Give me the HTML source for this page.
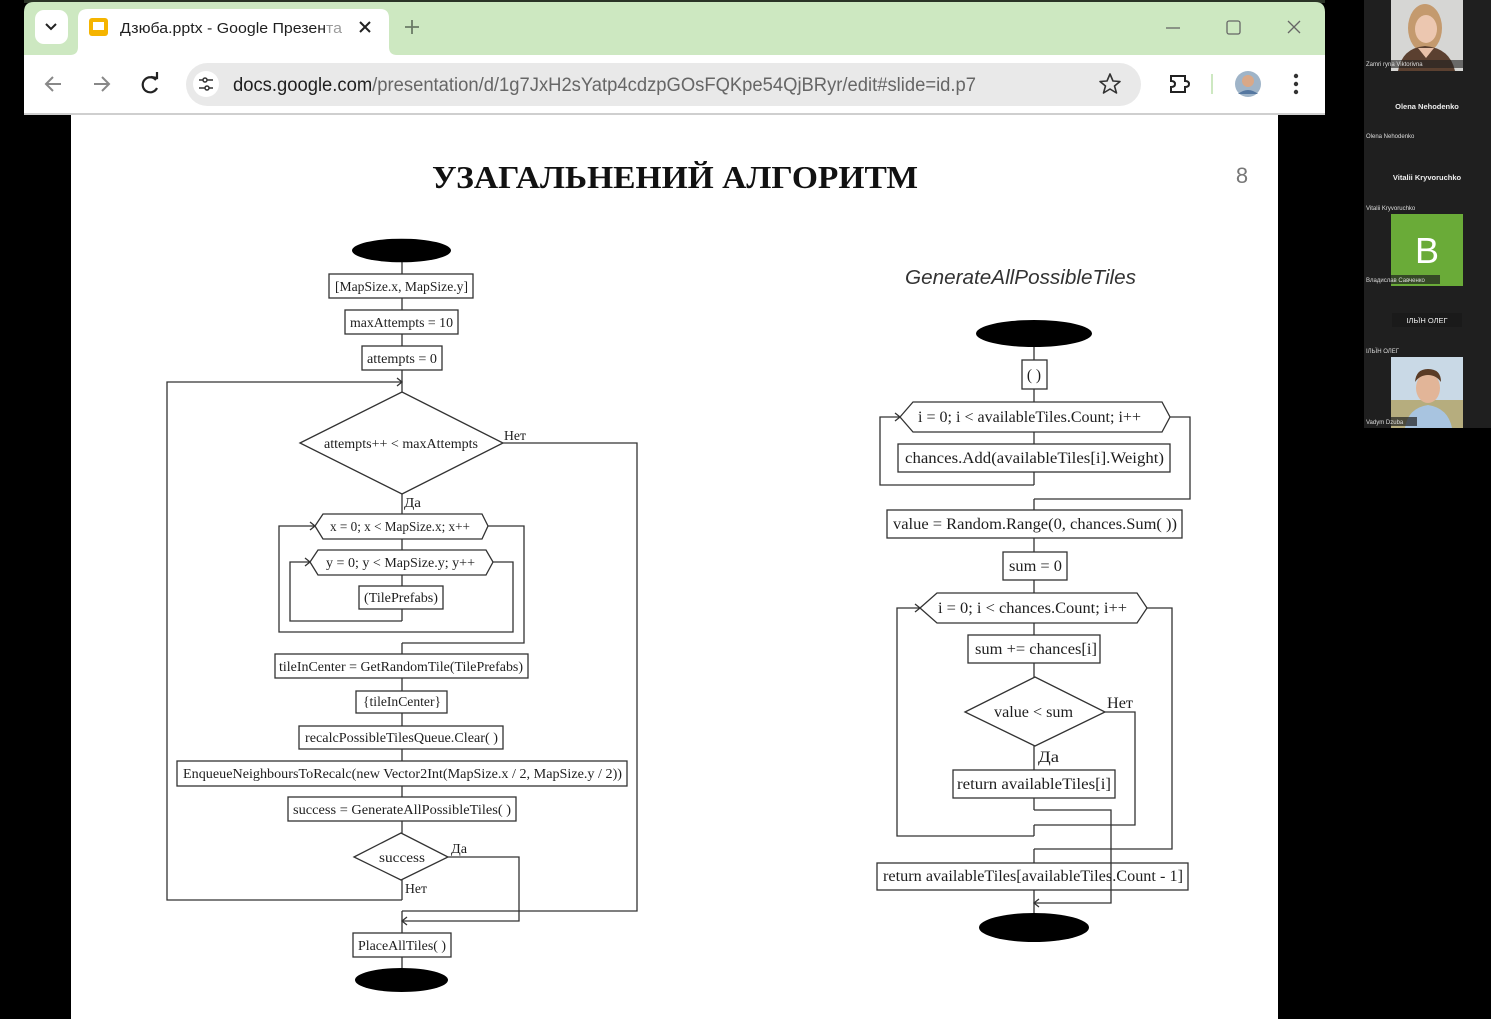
<!DOCTYPE html>
<html><head><meta charset="utf-8">
<style>
html,body{margin:0;padding:0;background:#000;width:1491px;height:1019px;overflow:hidden}
svg{display:block}
.ft{font-family:"Liberation Serif","DejaVu Serif",serif;fill:#1e1e1e}
.sans{font-family:"Liberation Sans","DejaVu Sans",sans-serif}
</style></head>
<body>
<svg width="1491" height="1019" viewBox="0 0 1491 1019" xmlns="http://www.w3.org/2000/svg">
<!-- background -->
<rect x="0" y="0" width="1491" height="1019" fill="#000"/>
<rect x="24" y="0" width="1301" height="3" fill="#2a3326"/>
<!-- browser window -->
<path d="M24,12 Q24,2 34,2 L1315,2 Q1325,2 1325,12 L1325,1019 L24,1019 Z" fill="#cde8c1"/>
<!-- tab strip -->
<rect x="35" y="10" width="33" height="34" rx="9" fill="#fff"/>
<path d="M46,24 L51,29 L56,24" fill="none" stroke="#222" stroke-width="2"/>
<path d="M70,55 Q78,55 78,47 L78,18 Q78,9 88,9 L380,9 Q389,9 389,18 L389,47 Q389,55 397,55 Z" fill="#fff"/>
<rect x="89" y="18" width="19" height="18" rx="3" fill="#f5b400"/>
<rect x="93" y="22" width="11" height="8" fill="#fff"/>
<text x="120" y="33" class="sans" font-size="15" fill="#1f1f1f" textLength="222" lengthAdjust="spacingAndGlyphs">Дзюба.pptx - Google Презента</text>
<rect x="325" y="14" width="20" height="30" fill="#fff" opacity="0.55"/>
<path d="M360,22 L370,32 M370,22 L360,32" stroke="#222" stroke-width="2"/>
<path d="M412,20 L412,34 M405,27 L419,27" stroke="#6a7a66" stroke-width="1.8"/>
<path d="M1166,28 L1180,28" stroke="#666" stroke-width="1.3"/>
<rect x="1227" y="21" width="13" height="13" rx="2" fill="none" stroke="#666" stroke-width="1.3"/>
<path d="M1288,21 L1300,33 M1300,21 L1288,33" stroke="#666" stroke-width="1.3"/>
<!-- toolbar -->
<rect x="24" y="55" width="1301" height="59" fill="#fff"/>
<path d="M46,84 L61,84 M53,77 L46,84 L53,91" fill="none" stroke="#888" stroke-width="2"/>
<path d="M94,84 L109,84 M102,77 L109,84 L102,91" fill="none" stroke="#888" stroke-width="2"/>
<path d="M156,80 A7.5,7.5 0 1 0 157,88" fill="none" stroke="#222" stroke-width="2.2"/>
<path d="M151,77 L157,78 L157,72" fill="none" stroke="#222" stroke-width="2.2"/>
<rect x="186" y="63" width="955" height="43" rx="21.5" fill="#e9e9e9"/>
<circle cx="206" cy="84" r="13" fill="#fff"/>
<path d="M199,80 L203,80 M207,80 L213,80 M199,88 L205,88 M209,88 L213,88" stroke="#333" stroke-width="1.6"/>
<circle cx="205" cy="80" r="2" fill="none" stroke="#333" stroke-width="1.5"/>
<circle cx="207" cy="88" r="2" fill="none" stroke="#333" stroke-width="1.5"/>
<text x="233" y="91" class="sans" font-size="19" textLength="743" lengthAdjust="spacingAndGlyphs"><tspan fill="#1f1f1f">docs.google.com</tspan><tspan fill="#666">/presentation/d/1g7JxH2sYatp4cdzpGOsFQKpe54QjBRyr/edit#slide=id.p7</tspan></text>
<path d="M1110,74 L1113,81 L1120,81.5 L1114.5,86 L1116.5,93 L1110,89 L1103.5,93 L1105.5,86 L1100,81.5 L1107,81 Z" fill="none" stroke="#333" stroke-width="1.6" stroke-linejoin="round"/>
<path d="M1171,76 L1185,76 L1185,81 Q1189,81 1189,84 Q1189,87 1185,87 L1185,92 L1171,92 L1171,87 Q1175,87 1175,84 Q1175,81 1171,81 Z" fill="none" stroke="#222" stroke-width="2"/>
<path d="M1212,74 L1212,94" stroke="#cde8c1" stroke-width="2"/>
<circle cx="1248" cy="84" r="13" fill="#9fb4c8"/>
<circle cx="1248" cy="81" r="6" fill="#d9a888"/>
<path d="M1238,94 Q1248,86 1258,94" fill="#5577a0"/>
<circle cx="1296" cy="76" r="2.2" fill="#333"/><circle cx="1296" cy="84" r="2.2" fill="#333"/><circle cx="1296" cy="92" r="2.2" fill="#333"/>
<rect x="24" y="113" width="1301" height="2" fill="#cfcfcf"/>
<!-- slide area -->
<rect x="24" y="115" width="1301" height="904" fill="#000"/>
<rect x="71" y="115" width="1207" height="904" fill="#fff"/>
<text x="675" y="188" text-anchor="middle" font-family="'Liberation Serif',serif" font-weight="bold" font-size="32" fill="#111" textLength="486" lengthAdjust="spacingAndGlyphs">УЗАГАЛЬНЕНИЙ АЛГОРИТМ</text>
<text x="1242" y="183" text-anchor="middle" class="sans" font-size="22" fill="#777">8</text>
<text x="905" y="284" class="sans" font-style="italic" font-size="20" fill="#333" textLength="231" lengthAdjust="spacingAndGlyphs">GenerateAllPossibleTiles</text>

<!-- LEFT FLOWCHART -->
<g stroke="#333" stroke-width="1.3" fill="none">
<path d="M402,262 V274 M402,298 V310 M402,334 V346 M402,370 V392 M402,494 V514 M402,539 V550 M402,575 V586 M402,609 V621 M402,643 V654 M402,678 V691 M402,713 V726 M402,749 V761 M402,786 V797 M402,821 V833 M402,880 V900 M402,911 V933 M402,957 V968"/>
<polyline points="402,900 167,900 167,382 402,382"/>
<polyline points="503,443 637,443 637,911 402,911"/>
<polyline points="448,857 519,857 519,921 402,921"/>
<polyline points="402,621 290,621 290,562 310,562"/>
<polyline points="493,562 513,562 513,632 279,632 279,526 315,526"/>
<polyline points="488,526 524,526 524,643 402,643"/>
<!-- arrows -->
<polyline points="397,378 402,382 397,386"/>
<polyline points="305,558 310,562 305,566"/>
<polyline points="310,522 315,526 310,530"/>
<polyline points="407,917 402,921 407,925"/>
<!-- shapes -->
<rect x="329" y="274" width="144" height="24" fill="#fff"/>
<rect x="345" y="310" width="113" height="24" fill="#fff"/>
<rect x="362" y="346" width="80" height="24" fill="#fff"/>
<polygon points="300,443 402,392 503,443 402,494" fill="#fff"/>
<polygon points="315,526 323,514 482,514 488,526 482,539 323,539" fill="#fff"/>
<polygon points="310,562 318,550 486,550 493,562 486,575 318,575" fill="#fff"/>
<rect x="359" y="586" width="84" height="23" fill="#fff"/>
<rect x="275" y="654" width="253" height="24" fill="#fff"/>
<rect x="356" y="691" width="91" height="22" fill="#fff"/>
<rect x="299" y="726" width="204" height="23" fill="#fff"/>
<rect x="177" y="761" width="450" height="25" fill="#fff"/>
<rect x="288" y="797" width="228" height="24" fill="#fff"/>
<polygon points="354,857 401,833 448,857 401,880" fill="#fff"/>
<rect x="353" y="933" width="98" height="24" fill="#fff"/>
</g>
<ellipse cx="401.5" cy="250.5" rx="49.5" ry="11.8" fill="#000"/>
<ellipse cx="401.5" cy="980" rx="46.5" ry="12" fill="#000"/>
<g class="ft" font-size="13.5">
<text x="335" y="291" textLength="133" lengthAdjust="spacingAndGlyphs">[MapSize.x, MapSize.y]</text>
<text x="350" y="327" textLength="103" lengthAdjust="spacingAndGlyphs">maxAttempts = 10</text>
<text x="367" y="363" textLength="70" lengthAdjust="spacingAndGlyphs">attempts = 0</text>
<text x="324" y="448" textLength="154" lengthAdjust="spacingAndGlyphs">attempts++ &lt; maxAttempts</text>
<text x="330" y="531" textLength="140" lengthAdjust="spacingAndGlyphs">x = 0; x &lt; MapSize.x; x++</text>
<text x="326" y="567" textLength="149" lengthAdjust="spacingAndGlyphs">y = 0; y &lt; MapSize.y; y++</text>
<text x="364" y="602" textLength="74" lengthAdjust="spacingAndGlyphs">(TilePrefabs)</text>
<text x="279" y="671" textLength="244" lengthAdjust="spacingAndGlyphs">tileInCenter = GetRandomTile(TilePrefabs)</text>
<text x="363" y="706" textLength="78" lengthAdjust="spacingAndGlyphs">{tileInCenter}</text>
<text x="305" y="742" textLength="193" lengthAdjust="spacingAndGlyphs">recalcPossibleTilesQueue.Clear( )</text>
<text x="183" y="778" textLength="439" lengthAdjust="spacingAndGlyphs">EnqueueNeighboursToRecalc(new Vector2Int(MapSize.x / 2, MapSize.y / 2))</text>
<text x="293" y="814" textLength="218" lengthAdjust="spacingAndGlyphs">success = GenerateAllPossibleTiles( )</text>
<text x="379" y="862" textLength="46" lengthAdjust="spacingAndGlyphs">success</text>
<text x="358" y="950" textLength="88" lengthAdjust="spacingAndGlyphs">PlaceAllTiles( )</text>
<text x="504" y="440" textLength="22" lengthAdjust="spacingAndGlyphs">Нет</text>
<text x="404" y="507" textLength="17" lengthAdjust="spacingAndGlyphs">Да</text>
<text x="451" y="853" textLength="16" lengthAdjust="spacingAndGlyphs">Да</text>
<text x="405" y="893" textLength="22" lengthAdjust="spacingAndGlyphs">Нет</text>
</g>

<!-- RIGHT FLOWCHART -->
<g stroke="#333" stroke-width="1.3" fill="none">
<path d="M1034,347 V360 M1034,389 V402 M1034,432 V444 M1034,472 V485 M1034,499 V510 M1034,538 V552 M1034,580 V593 M1034,623 V635 M1034,663 V677 M1034,746 V770 M1034,798 V810 M1034,825 V836 M1034,849 V863 M1034,890 V913"/>
<polyline points="1034,485 880,485 880,417 900,417"/>
<polyline points="1170,417 1190,417 1190,499 1034,499"/>
<polyline points="1105,712 1135,712 1135,825 1034,825"/>
<polyline points="1034,836 897,836 897,608 920,608"/>
<polyline points="1147,608 1172,608 1172,849 1034,849"/>
<polyline points="1034,810 1111,810 1111,903 1034,903"/>
<polyline points="895,413 900,417 895,421"/>
<polyline points="915,604 920,608 915,612"/>
<polyline points="1039,899 1034,903 1039,907"/>
<rect x="1022" y="360" width="25" height="29" fill="#fff"/>
<polygon points="900,417 913,402 1162,402 1170,417 1162,432 913,432" fill="#fff"/>
<rect x="898" y="444" width="272" height="28" fill="#fff"/>
<rect x="887" y="510" width="295" height="28" fill="#fff"/>
<rect x="1003" y="552" width="64" height="28" fill="#fff"/>
<polygon points="920,608 937,593 1137,593 1147,608 1137,623 937,623" fill="#fff"/>
<rect x="968" y="635" width="132" height="28" fill="#fff"/>
<polygon points="965,712 1035,677 1105,712 1035,746" fill="#fff"/>
<rect x="953" y="770" width="162" height="28" fill="#fff"/>
<rect x="877" y="863" width="311" height="27" fill="#fff"/>
</g>
<path d="M1111,863 V890" stroke="#333" stroke-width="1.3"/>
<ellipse cx="1034" cy="333.5" rx="58" ry="13.5" fill="#000"/>
<ellipse cx="1034" cy="927.5" rx="55" ry="14.5" fill="#000"/>
<g class="ft" font-size="15.5">
<text x="1034" y="380" text-anchor="middle">( )</text>
<text x="918" y="422" textLength="223" lengthAdjust="spacingAndGlyphs">i = 0; i &lt; availableTiles.Count; i++</text>
<text x="905" y="463" textLength="259" lengthAdjust="spacingAndGlyphs">chances.Add(availableTiles[i].Weight)</text>
<text x="893" y="529" textLength="284" lengthAdjust="spacingAndGlyphs">value = Random.Range(0, chances.Sum( ))</text>
<text x="1009" y="571" textLength="53" lengthAdjust="spacingAndGlyphs">sum = 0</text>
<text x="938" y="613" textLength="189" lengthAdjust="spacingAndGlyphs">i = 0; i &lt; chances.Count; i++</text>
<text x="975" y="654" textLength="122" lengthAdjust="spacingAndGlyphs">sum += chances[i]</text>
<text x="994" y="717" textLength="79" lengthAdjust="spacingAndGlyphs">value &lt; sum</text>
<text x="957" y="789" textLength="154" lengthAdjust="spacingAndGlyphs">return availableTiles[i]</text>
<text x="883" y="881" textLength="300" lengthAdjust="spacingAndGlyphs">return availableTiles[availableTiles.Count - 1]</text>
<text x="1107" y="708" textLength="26" lengthAdjust="spacingAndGlyphs">Нет</text>
<text x="1038" y="762" textLength="21" lengthAdjust="spacingAndGlyphs">Да</text>
</g>

<!-- RIGHT PANEL -->
<rect x="1364" y="0" width="127" height="428" fill="#1f1f1f"/>
<!-- photo 1 -->
<rect x="1391" y="0" width="72" height="71" fill="#d6d6d4"/>
<ellipse cx="1425" cy="28" rx="17" ry="24" fill="#c49a6e"/>
<path d="M1398,71 Q1402,48 1425,46 Q1450,48 1455,71 Z" fill="#5b4030"/>
<ellipse cx="1426" cy="29" rx="11" ry="14" fill="#ecc7b0"/>
<path d="M1418,48 L1426,58 L1434,48 Z" fill="#e8c0a8"/>
<rect x="1365" y="60" width="98" height="8" fill="#1f1f1f" opacity="0.6"/>
<text x="1366" y="66" class="sans" font-size="6" fill="#ddd">Zamri ryna Viktorivna</text>
<text x="1427" y="109" text-anchor="middle" class="sans" font-weight="bold" font-size="7.5" fill="#eee">Olena Nehodenko</text>
<text x="1366" y="138" class="sans" font-size="6" fill="#ddd">Olena Nehodenko</text>
<text x="1427" y="180" text-anchor="middle" class="sans" font-weight="bold" font-size="7.5" fill="#eee">Vitalii Kryvoruchko</text>
<text x="1366" y="210" class="sans" font-size="6" fill="#ddd">Vitalii Kryvoruchko</text>
<rect x="1391" y="214" width="72" height="72" fill="#6aab38"/>
<text x="1427" y="263" text-anchor="middle" class="sans" font-size="36" fill="#fff">B</text>
<rect x="1365" y="275" width="75" height="9" fill="#1f1f1f" opacity="0.7"/>
<text x="1366" y="282" class="sans" font-size="6" fill="#ddd">Владислав Савченко</text>
<rect x="1392" y="313" width="70" height="14" fill="#1a1a1a"/>
<text x="1427" y="323" text-anchor="middle" class="sans" font-size="7.5" fill="#eee">ІЛЬЇН ОЛЕГ</text>
<text x="1366" y="353" class="sans" font-size="6" fill="#ddd">ІЛЬЇН ОЛЕГ</text>
<!-- photo 2 -->
<rect x="1391" y="357" width="72" height="71" fill="#c9d9e6"/>
<rect x="1391" y="400" width="72" height="28" fill="#b6ad7e"/>
<path d="M1405,428 Q1408,408 1428,405 Q1448,408 1452,428 Z" fill="#a8c4e0"/>
<ellipse cx="1428" cy="388" rx="12" ry="15" fill="#e2b598"/>
<path d="M1415,382 Q1416,369 1428,369 Q1441,369 1441,382 Q1436,375 1428,375 Q1420,375 1415,382 Z" fill="#5a3b25"/>
<rect x="1365" y="417" width="52" height="9" fill="#1f1f1f" opacity="0.7"/>
<text x="1366" y="424" class="sans" font-size="6" fill="#ddd">Vadym Dzuba</text>
</svg>
</body></html>
